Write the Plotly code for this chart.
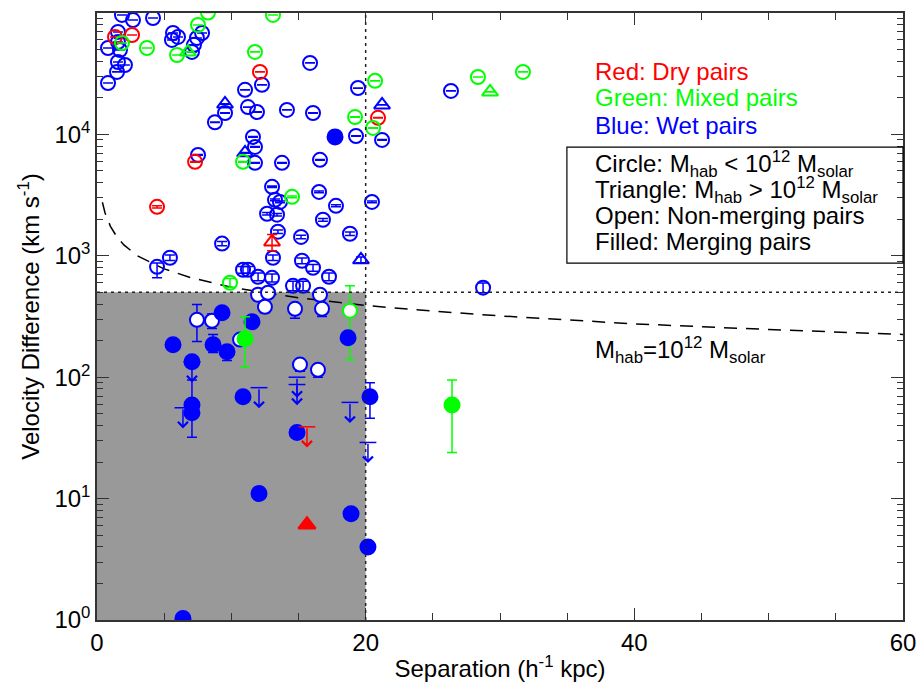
import math
import plotly.graph_objects as go

# ---------------- data (separation in h^-1 kpc, velocity difference in km/s) -------------
# Wet pairs (blue), open circles: x, v, +err, -err
wet_oc_x = [1.86, 2.68, 4.17, 1.56, 0.82, 1.56, 1.71, 1.56, 2.08, 1.49, 0.82, 5.66, 5.58, 6.03,
            7.82, 7.44, 7.22, 7.07, 12.28, 15.86, 11.02, 19.43, 11.24, 11.91, 9.53, 8.78, 14.14,
            16.08, 19.28, 21.22, 26.35, 11.61, 11.76, 11.76, 7.52, 13.77, 16.60, 13.03, 13.25,
            13.62, 16.53, 17.79, 20.47, 12.66, 13.40, 16.82, 13.47, 15.19, 18.83, 9.31, 13.10,
            15.26, 16.08, 17.27, 10.87, 11.24, 11.99, 13.03, 14.59, 15.34, 11.99, 12.73, 16.60,
            5.43, 4.47, 28.74, 7.44, 8.56, 12.50, 14.74, 16.75, 15.11, 16.45, 10.65]
wet_oc_v = [96400, 87500, 91000, 69800, 51500, 57700, 49600, 39500, 37300, 32700, 26500, 68400,
            60000, 63500, 68400, 62300, 54700, 47800, 25600, 38800, 23300, 24100, 16800, 15300,
            15000, 12600, 15900, 15000, 9700, 9010, 22800, 9540, 7890, 5830, 6780, 5830, 6170,
            3700, 2890, 2780, 3360, 2580, 2780, 2220, 2180, 1980, 1580, 1430, 1520, 1260, 964,
            910, 797, 672, 768, 768, 672, 659, 566, 566, 478, 496, 478, 964, 811, 546, 297, 292,
            380, 366, 366, 127, 115, 204]
wet_oc_ep = [50] * 64 + [60, 50, 100, 40, 40, 30, 30, 15, 12, 20]
wet_oc_em = [50] * 64 + [150, 50, 100, 40, 40, 60, 50, 15, 15, 20]

# Wet pairs, open triangles
wet_ot_x = [9.53, 21.22, 11.02, 19.65]
wet_ot_v = [17800, 17500, 7050, 927]
wet_ot_e = [50, 50, 50, 50]

# Wet pairs, filled circles
wet_fc_x = [17.72, 9.31, 11.54, 5.66, 8.64, 9.68, 7.07, 18.69, 10.87, 7.07, 7.07, 20.32,
            14.89, 12.06, 18.91, 20.17, 6.40]
wet_fc_v = [9540, 340, 286, 185, 185, 162, 134, 211, 69, 59, 51, 69, 35, 11, 7.5, 4.0, 1.03]
wet_fc_ep = [0, 0, 0, 0, 40, 20, 0, 0, 0, 36, 0, 21, 0, 0, 0, 0, 0]
wet_fc_em = [0, 0, 0, 0, 25, 25, 0, 20, 0, 0, 19, 23, 0, 0, 0, 0, 0]

# Wet pairs, upper limits
wet_ul_x = [7.07, 6.40, 12.06, 14.89, 14.89, 18.83, 20.17]
wet_ul_v = [134, 56, 82, 100, 87, 62, 29]

# Dry pairs (red)
dry_oc_x = [2.61, 1.34, 12.13, 20.92, 7.30, 4.47]
dry_oc_v = [65900, 63500, 32700, 13700, 5940, 2530]
dry_oc_e = [50, 50, 50, 50, 50, 50]
dry_ot_x = [13.03]
dry_ot_v = [1300]
dry_ot_e = [200]
dry_ft_x = [15.63]
dry_ft_v = [6.1]
dry_ul_x = [15.63]
dry_ul_v = [39]

# Mixed pairs (green)
mix_oc_x = [1.86, 3.72, 7.52, 8.26, 13.10, 5.96, 11.76, 20.70, 19.21, 20.55, 28.36, 31.71,
            10.87, 14.52, 9.90, 18.83]
mix_oc_v = [56600, 51500, 79600, 101000, 96400, 45100, 47800, 27600, 13900, 11300, 29700,
            32700, 5940, 3060, 600, 353]
mix_oc_ep = [50] * 15 + [213]
mix_oc_em = [50] * 15 + [214]
mix_ot_x = [6.77, 29.26]
mix_ot_v = [47800, 22400]
mix_ot_e = [50, 50]
mix_fc_x = [11.02, 26.43]
mix_fc_v = [207, 59]
mix_fc_ep = [108, 36]
mix_fc_em = [85, 35]

# M_hab = 10^12 M_solar curve
curve_x = [0.4, 0.6, 1.0, 1.5, 2.0, 3.0, 5.0, 7.0, 10.0, 15.0, 20.0, 25.0, 30.0, 40.0, 50.0, 60.0]
curve_v = [2760, 2250, 1750, 1420, 1230, 1000, 780, 660, 550, 450, 390, 350, 320, 275, 247, 225]

# merging-region limits
sep_limit = 20
vel_limit = 500

x_ticks = [0, 20, 40, 60]
y_ticks = [1, 10, 100, 1000, 10000, 100000]
y_ticktext = ["10<sup>0</sup>", "10<sup>1</sup>", "10<sup>2</sup>", "10<sup>3</sup>",
              "10<sup>4</sup>", "10<sup>5</sup>"]

RED, GREEN, BLUE = "#ff0000", "#00ff00", "#0000ff"
FONT = "Liberation Sans"
FS = 24

fig = go.Figure()


def open_fill(xs, vs):
    return ["white" if (x <= sep_limit and v <= vel_limit) else "rgba(0,0,0,0)"
            for x, v in zip(xs, vs)]


def add_group(xs, vs, ep, em, color, symbol, filled, size=14):
    fill = color if filled else open_fill(xs, vs)
    fig.add_trace(go.Scatter(
        x=xs, y=vs, mode="markers", showlegend=False,
        marker=dict(symbol=symbol, size=size, color=fill, line=dict(color=color, width=2)),
        error_y=dict(type="data", symmetric=False, array=ep, arrayminus=em,
                     color=color, thickness=1.5, width=5),
    ))


# dashed model curve
fig.add_trace(go.Scatter(x=curve_x, y=curve_v, mode="lines", showlegend=False,
                         line=dict(color="black", width=1.5, dash="13px,9px")))

add_group(wet_oc_x, wet_oc_v, wet_oc_ep, wet_oc_em, BLUE, "circle", False)
add_group(wet_ot_x, wet_ot_v, wet_ot_e, wet_ot_e, BLUE, "triangle-up", False)
add_group(dry_oc_x, dry_oc_v, dry_oc_e, dry_oc_e, RED, "circle", False)
add_group(dry_ot_x, dry_ot_v, dry_ot_e, dry_ot_e, RED, "triangle-up", False)
add_group(mix_oc_x, mix_oc_v, mix_oc_ep, mix_oc_em, GREEN, "circle", False)
add_group(mix_ot_x, mix_ot_v, mix_ot_e, mix_ot_e, GREEN, "triangle-up", False)
add_group(wet_fc_x, wet_fc_v, wet_fc_ep, wet_fc_em, BLUE, "circle", True, 15)
add_group(mix_fc_x, mix_fc_v, mix_fc_ep, mix_fc_em, GREEN, "circle", True, 15)
add_group(dry_ft_x, dry_ft_v, [0], [0], RED, "triangle-up", True, 15)

# upper limits: cap + downward arrow
ARROW_DEX = 0.17
annotations = []
for xs, vs, color in [(wet_ul_x, wet_ul_v, BLUE), (dry_ul_x, dry_ul_v, RED)]:
    fig.add_trace(go.Scatter(x=xs, y=vs, mode="markers", showlegend=False,
                             marker=dict(symbol="line-ew", size=12,
                                         line=dict(color=color, width=1.5))))
    for x, v in zip(xs, vs):
        annotations.append(dict(
            x=x, y=math.log10(v) - ARROW_DEX, ax=x, ay=math.log10(v),
            xref="x", yref="y", axref="x", ayref="y", text="", showarrow=True,
            arrowhead=4, arrowsize=1.3, arrowwidth=1.5, arrowcolor=color))

shapes = [
    dict(type="rect", xref="x", yref="y", x0=0, x1=sep_limit, y0=1, y1=vel_limit,
         fillcolor="#999999", line=dict(width=0), layer="below"),
    dict(type="line", xref="x", yref="y", x0=sep_limit, x1=sep_limit, y0=1, y1=100000,
         line=dict(color="#222222", width=1.5, dash="3px,4px"), layer="above"),
    dict(type="line", xref="x", yref="y", x0=0, x1=60, y0=vel_limit,
         y1=vel_limit, line=dict(color="#222222", width=1.5, dash="3px,4px"),
         layer="above"),
    dict(type="rect", xref="paper", yref="paper", x0=0.583, x1=1.0, y0=0.588, y1=0.779,
         line=dict(color="black", width=1.2), fillcolor="rgba(0,0,0,0)"),
]

def label(text, y, color="black"):
    annotations.append(dict(x=0.615, y=y, xref="paper", yref="paper", xanchor="left",
                            yanchor="middle", showarrow=False, text=text,
                            font=dict(family=FONT, size=FS, color=color)))

label("Red: Dry pairs", 0.903, RED)
label("Green: Mixed pairs", 0.860, GREEN)
label("Blue: Wet pairs", 0.814, BLUE)
label("Circle: M<sub>hab</sub> &lt; 10<sup>12</sup> M<sub>solar</sub>", 0.751)
label("Triangle: M<sub>hab</sub> &gt; 10<sup>12</sup> M<sub>solar</sub>", 0.708)
label("Open: Non-merging pairs", 0.666)
label("Filled: Merging pairs", 0.624)
label("M<sub>hab</sub>=10<sup>12</sup> M<sub>solar</sub>", 0.445)

axis_common = dict(showline=True, linecolor="#333333", linewidth=1.5, mirror="allticks",
                   ticks="inside", tickcolor="#333333", showgrid=False, zeroline=False,
                   automargin=False,
                   tickfont=dict(family=FONT, size=FS, color="black"))

fig.update_layout(
    width=919, height=687,
    margin=dict(l=97, r=16, t=13, b=67),
    paper_bgcolor="white", plot_bgcolor="white",
    shapes=shapes, annotations=annotations,
    xaxis=dict(range=[0, 60], tickvals=x_ticks, ticklen=12,
               minor=dict(dtick=5, ticks="inside", ticklen=7, tickcolor="#333333"),
               title=dict(text="Separation (h<sup>-1</sup> kpc)", standoff=6,
                          font=dict(family=FONT, size=FS, color="black")),
               **axis_common),
    yaxis=dict(type="log", range=[0, 5], tickvals=y_ticks, ticktext=y_ticktext, ticklen=12,
               minor=dict(dtick="D1", ticks="inside", ticklen=6, tickcolor="#333333"),
               title=dict(text="Velocity Difference (km s<sup>-1</sup>)", standoff=8,
                          font=dict(family=FONT, size=FS, color="black")),
               **axis_common),
)

fig.write_html("out.html", config={"displayModeBar": False},
               post_script="document.body.style.margin='0';document.body.style.overflow='hidden';")
